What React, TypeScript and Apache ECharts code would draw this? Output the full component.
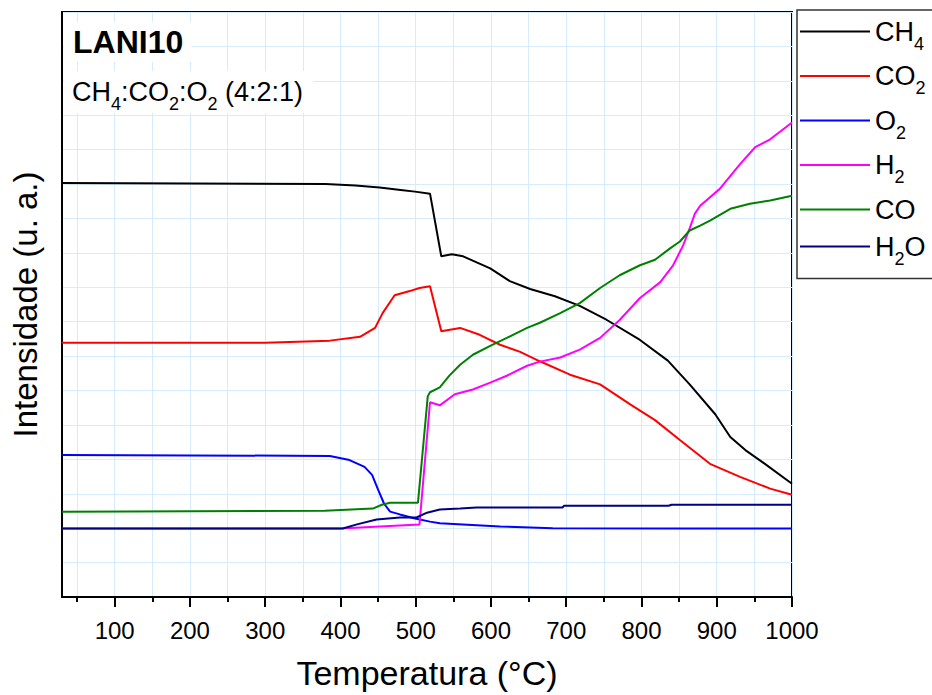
import React, { useEffect, useRef } from "react";
import * as echarts from "echarts";

// ---------- data (temperature in °C, intensity in arbitrary units) ----------
const xTickValues = [100, 200, 300, 400, 500, 600, 700, 800, 900, 1000];

const ch4T = [30, 380, 420, 452, 480, 499, 519, 534, 548, 563, 599, 625, 652, 685, 718, 754, 798, 835, 864, 898, 918, 938, 964, 1000];
const ch4V = [12.03, 12.0, 11.96, 11.9, 11.83, 11.78, 11.72, 9.9, 9.96, 9.9, 9.55, 9.18, 8.95, 8.74, 8.46, 8.05, 7.47, 6.87, 6.18, 5.31, 4.65, 4.27, 3.87, 3.29];

const co2T = [30, 300, 386, 426, 446, 456, 472, 492, 505, 519, 534, 559, 585, 612, 638, 665, 705, 745, 785, 818, 851, 891, 931, 971, 1000];
const co2V = [7.39, 7.39, 7.45, 7.56, 7.82, 8.25, 8.77, 8.89, 8.98, 9.03, 7.72, 7.82, 7.62, 7.33, 7.13, 6.85, 6.46, 6.18, 5.6, 5.14, 4.56, 3.87, 3.49, 3.15, 2.97];

const o2T = [30, 386, 412, 432, 442, 450, 458, 466, 479, 499, 519, 532, 612, 682, 838, 1000];
const o2V = [4.13, 4.1, 3.98, 3.78, 3.55, 3.12, 2.71, 2.48, 2.4, 2.28, 2.19, 2.14, 2.05, 2.0, 1.99, 1.99];

const h2T = [30, 400, 505, 519, 532, 552, 576, 599, 621, 648, 665, 692, 718, 745, 771, 798, 825, 842, 855, 864, 871, 878, 904, 931, 951, 971, 1000];
const h2V = [1.99, 1.99, 2.11, 5.66, 5.57, 5.89, 6.03, 6.23, 6.43, 6.72, 6.84, 6.96, 7.19, 7.53, 8.05, 8.69, 9.15, 9.64, 10.2, 10.71, 11.14, 11.37, 11.86, 12.58, 13.07, 13.3, 13.79];

const coT = [30, 379, 443, 455, 466, 503, 516, 519, 532, 545, 559, 576, 599, 621, 648, 665, 692, 718, 745, 771, 798, 818, 838, 851, 864, 878, 891, 918, 944, 971, 1000];
const coV = [2.48, 2.51, 2.57, 2.68, 2.74, 2.74, 5.83, 5.95, 6.09, 6.44, 6.75, 7.04, 7.3, 7.53, 7.82, 7.97, 8.25, 8.54, 8.98, 9.35, 9.64, 9.8, 10.13, 10.33, 10.65, 10.79, 10.94, 11.28, 11.43, 11.52, 11.66];

const h2oT = [30, 403, 422, 448, 479, 501, 515, 532, 559, 581, 695, 697, 836, 840, 1000];
const h2oV = [1.99, 1.99, 2.11, 2.25, 2.31, 2.31, 2.45, 2.54, 2.57, 2.6, 2.6, 2.65, 2.65, 2.68, 2.68];

const seriesNames = ["CH4", "CO2", "O2", "H2", "CO", "H2O"];
const seriesColors = ["#000000", "#ff0000", "#0000ff", "#ff00ff", "#008000", "#000080"];
const seriesT = [ch4T, co2T, o2T, h2T, coT, h2oT];
const seriesV = [ch4V, co2V, o2V, h2V, coV, h2oV];

const legendLabels: Record<string, string> = {
  CH4: "{n|CH}{s|4}",
  CO2: "{n|CO}{s|2}",
  O2: "{n|O}{s|2}",
  H2: "{n|H}{s|2}",
  CO: "{n|CO}",
  H2O: "{n|H}{s|2}{n|O}",
};

const FONT = '"Liberation Sans", Arial, sans-serif';
const GRID_COLOR = "#d6ebfb";

const richStyles = {
  n: { fontSize: 27, lineHeight: 42, fontFamily: FONT, color: "#000" },
  s: { fontSize: 18, lineHeight: 18, fontFamily: FONT, color: "#000", verticalAlign: "bottom" },
};

export default function App() {
  const ref = useRef<HTMLDivElement>(null);

  useEffect(() => {
    if (!ref.current) return;
    const chart = echarts.init(ref.current, undefined, { renderer: "svg" });

    const series = seriesNames.map((name, i) => ({
      name,
      type: "line",
      data: seriesT[i].map((t, j) => [t, seriesV[i][j]]),
      symbol: "none",
      smooth: false,
      lineStyle: { color: seriesColors[i], width: 2 },
      itemStyle: { color: seriesColors[i] },
      z: 3 + i,
    }));

    chart.setOption({
      animation: false,
      backgroundColor: "#ffffff",
      grid: {
        left: 62,
        right: 140,
        top: 12,
        bottom: 94,
        show: true,
        borderColor: "#000",
        borderWidth: 2,
        backgroundColor: "transparent",
        containLabel: false,
      },
      xAxis: {
        type: "value",
        min: 30,
        max: 1000,
        splitNumber: 10,
        name: "Temperatura (°C)",
        nameLocation: "middle",
        nameGap: 59,
        nameTextStyle: { fontSize: 34, fontFamily: FONT, color: "#000" },
        axisLine: { show: true, onZero: false, lineStyle: { color: "#000", width: 2 } },
        axisTick: { show: true, inside: false, length: 10, customValues: xTickValues, lineStyle: { color: "#000", width: 2 } },
        minorTick: { show: true, splitNumber: 2, length: 5, lineStyle: { color: "#000", width: 2 } },
        axisLabel: {
          customValues: xTickValues,
          fontSize: 24,
          fontFamily: FONT,
          color: "#000",
          margin: 21,
          formatter: (v: number) => (v < 100 ? "" : String(v)),
        },
        splitLine: { show: true, lineStyle: { color: GRID_COLOR, width: 1 } },
        minorSplitLine: { show: true, lineStyle: { color: GRID_COLOR, width: 1 } },
      },
      yAxis: {
        type: "value",
        min: 0,
        max: 17,
        interval: 1,
        name: "Intensidade (u. a.)",
        nameLocation: "middle",
        nameGap: 20,
        nameTextStyle: { fontSize: 33, fontFamily: FONT, color: "#000" },
        axisLine: { show: true, onZero: false, lineStyle: { color: "#000", width: 2 } },
        axisTick: { show: false },
        axisLabel: { show: false },
        splitLine: { show: true, lineStyle: { color: GRID_COLOR, width: 1 } },
      },
      legend: {
        show: true,
        orient: "vertical",
        left: 797,
        top: 10,
        padding: [8, 14, 11, 3],
        itemGap: 10,
        itemWidth: 70,
        itemHeight: 2,
        icon: "rect",
        selectedMode: false,
        borderColor: "#333",
        borderWidth: 1.5,
        backgroundColor: "#fff",
        data: seriesNames,
        formatter: (name: string) => legendLabels[name] || name,
        textStyle: { color: "#000", fontFamily: FONT, fontSize: 27, rich: richStyles },
      },
      graphic: [
        {
          type: "text",
          left: 64,
          top: 22,
          z: 100,
          style: {
            text: "LANI10",
            font: 'bold 32px "Liberation Sans", Arial, sans-serif',
            fill: "#000",
            backgroundColor: "#fff",
            padding: [4, 8, 4, 9],
          },
        },
        {
          type: "text",
          left: 64,
          top: 71,
          z: 100,
          style: {
            text: "{n|CH}{s|4}{n|:CO}{s|2}{n|:O}{s|2}{n| (4:2:1)}",
            rich: richStyles,
            fill: "#000",
            backgroundColor: "#fff",
            padding: [0, 10, 0, 8],
          },
        },
      ],
      series,
    });

    return () => chart.dispose();
  }, []);

  return (
    <div
      ref={ref}
      style={{ position: "absolute", left: 0, top: 0, width: 932, height: 695 }}
    />
  );
}
